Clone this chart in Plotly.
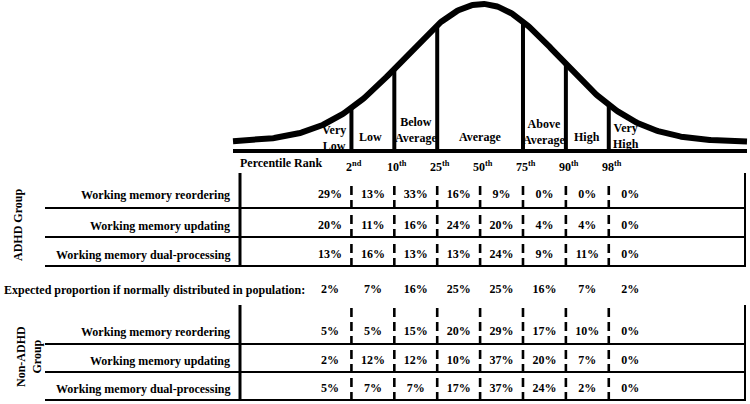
import numpy as np
import plotly.graph_objects as go

# ---------------- data ----------------
percentile_labels = ["2<sup>nd</sup>", "10<sup>th</sup>", "25<sup>th</sup>", "50<sup>th</sup>",
                     "75<sup>th</sup>", "90<sup>th</sup>", "98<sup>th</sup>"]
score_cuts = [70, 80, 90, 100, 110, 120, 130]          # standard-score cut points for the ranks above
curve_cuts = [70, 80, 90, 110, 120, 130]               # cut lines drawn under the curve
classifications = ["Very<br>Low", "Low", "Below<br>Average", "Average",
                   "Above<br>Average", "High", "Very<br>High"]
class_centers = [65, 75, 85, 100, 115, 125, 135]

measures = ["Working memory reordering", "Working memory updating", "Working memory dual-processing"]
adhd_reordering = [29, 13, 33, 16, 9, 0, 0, 0]
adhd_updating = [20, 11, 16, 24, 20, 4, 4, 0]
adhd_dual = [13, 16, 13, 13, 24, 9, 11, 0]
expected = [2, 7, 16, 25, 25, 16, 7, 2]
non_reordering = [5, 5, 15, 20, 29, 17, 10, 0]
non_updating = [2, 12, 12, 10, 37, 20, 7, 0]
non_dual = [5, 7, 7, 17, 37, 24, 2, 0]

expected_label = "Expected proportion if normally distributed in population:"
adhd_label = "ADHD Group"
non_label = "Non-ADHD<br>Group"
rank_title = "Percentile Rank"

# ---------------- layout helpers ----------------
W, H = 750, 404
PX_PER_PT = 4.289
PX_AT_100 = 480.1


def s_of(px):
    return 100 + (px - PX_AT_100) / PX_PER_PT


FONT = "Liberation Serif"
edges = [60] + score_cuts + [140]
col_centers = [(a + b) / 2 for a, b in zip(edges[:-1], edges[1:])]

# illustrative normal curve (drawn in score units)
MEAN, SD = 100.5, 18.2
BASE_Y, PEAK_H = 142, 138


def curve_y(s):
    return BASE_Y - PEAK_H * np.exp(-((np.asarray(s) - MEAN) ** 2) / (2 * SD ** 2))


fig = go.Figure()

xs = np.linspace(s_of(233), s_of(747), 400)
fig.add_trace(go.Scatter(x=xs, y=curve_y(xs), mode="lines",
                         line=dict(color="black", width=6), hoverinfo="skip"))

vx, vy = [], []
for c in curve_cuts:
    vx += [c, c, None]
    vy += [151, float(curve_y(c)), None]
fig.add_trace(go.Scatter(x=vx, y=vy, mode="lines", line=dict(color="black", width=4),
                         hoverinfo="skip"))

# baseline
fig.add_trace(go.Scatter(x=[s_of(233), s_of(747)], y=[151, 151], mode="lines",
                         line=dict(color="black", width=4), hoverinfo="skip"))

shapes = []


def hline(y, x0=45, x1=746, w=2):
    shapes.append(dict(type="line", xref="x", yref="y", x0=s_of(x0), x1=s_of(x1), y0=y, y1=y,
                       line=dict(color="black", width=w)))


def vline(px, y0, y1, w=2):
    shapes.append(dict(type="line", xref="x", yref="y", x0=s_of(px), x1=s_of(px), y0=y0, y1=y1,
                       line=dict(color="black", width=w)))


# table blocks
blocks = [
    dict(top=173, lines=[208, 237, 266], text_y=[195, 226, 255], rows=[adhd_reordering, adhd_updating, adhd_dual],
         dash_tops=[184, 210, 239]),
    dict(top=305, lines=[344, 372, 400], text_y=[332, 361, 389], rows=[non_reordering, non_updating, non_dual],
         dash_tops=[305, 346, 374]),
]

annotations = []


def txt(x, y, t, anchor="center", size=12, **kw):
    annotations.append(dict(x=x, y=y, xref="x", yref="y", text="<b>" + t + "</b>", showarrow=False,
                            xanchor=anchor, yanchor="middle",
                            font=dict(family=FONT, size=size, color="black"), **kw))


for b in blocks:
    vline(240, b["top"], b["lines"][-1], w=3)
    vline(745, b["top"], b["lines"][-1], w=2)
    for y in b["lines"]:
        hline(y)
    for c in score_cuts:
        for top, bot in zip(b["dash_tops"], b["lines"]):
            shapes.append(dict(type="line", xref="x", yref="y", x0=c, x1=c, y0=bot + 1, y1=top,
                               line=dict(color="black", width=2.6, dash="9px,5px")))
    for name, vals, y in zip(measures, b["rows"], b["text_y"]):
        txt(s_of(232), y, name, anchor="right")
        fig.add_trace(go.Scatter(x=col_centers, y=[y] * len(vals), mode="text",
                                 text=["<b>%d%%</b>" % v for v in vals],
                                 textfont=dict(family=FONT, size=12, color="black"),
                                 textposition="middle center", hoverinfo="skip"))

# expected row
txt(s_of(2), 290, expected_label, anchor="left")
fig.add_trace(go.Scatter(x=col_centers, y=[290] * len(expected), mode="text",
                         text=["<b>%d%%</b>" % v for v in expected],
                         textfont=dict(family=FONT, size=12, color="black"),
                         textposition="middle center", hoverinfo="skip"))

# group labels
txt(s_of(18), 225, adhd_label, textangle=-90)
txt(s_of(29), 357, non_label, textangle=-90)

# percentile rank row
txt(s_of(281), 163, rank_title)
for c, lab in zip(score_cuts, percentile_labels):
    txt(c, 166, lab, xshift=3)

# classification labels
class_y = [138, 137, 130, 137, 132, 137, 136]
class_shift = [4, -2, 0, 0, 0, 0, -4]
for cx, lab, cy, sh in zip(class_centers, classifications, class_y, class_shift):
    txt(cx, cy, lab, xshift=sh)

fig.update_layout(
    width=W, height=H, margin=dict(l=0, r=0, t=0, b=0),
    paper_bgcolor="white", plot_bgcolor="white", showlegend=False,
    xaxis=dict(range=[s_of(0), s_of(W)], visible=False, fixedrange=True),
    yaxis=dict(range=[H, 0], visible=False, fixedrange=True),
    shapes=shapes, annotations=annotations,
)

fig.write_html("out.html", config={"displayModeBar": False},
               post_script="document.body.style.margin='0px';document.body.style.overflow='hidden';")
